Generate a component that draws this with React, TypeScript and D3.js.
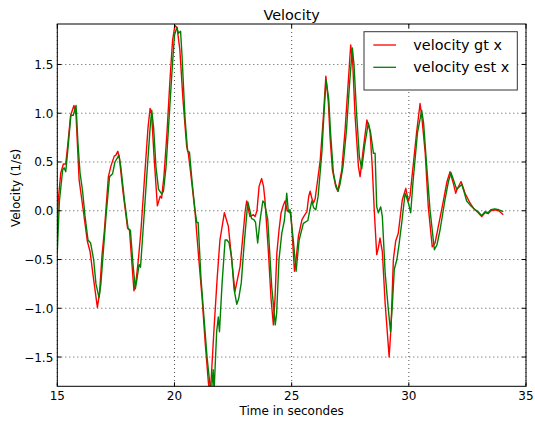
import React from "react";
import * as d3 from "d3";

const gtTime = [15.0, 15.04, 15.15, 15.26, 15.36, 15.44, 15.57, 15.71, 15.8, 15.93, 16.11, 16.28, 16.4, 16.52, 16.71, 16.8, 16.91, 17.0, 17.18, 17.29, 17.43, 17.5, 17.58, 17.65, 17.8, 18.0, 18.08, 18.27, 18.36, 18.46, 18.57, 18.74, 18.87, 18.96, 19.02, 19.13, 19.27, 19.39, 19.45, 19.55, 19.68, 19.81, 19.92, 20.02, 20.11, 20.23, 20.36, 20.52, 20.59, 20.71, 20.88, 21.05, 21.18, 21.31, 21.45, 21.5, 21.56, 21.69, 21.82, 21.94, 22.13, 22.3, 22.44, 22.58, 22.8, 23.01, 23.08, 23.22, 23.37, 23.44, 23.52, 23.61, 23.72, 23.8, 23.86, 24.01, 24.12, 24.22, 24.29, 24.37, 24.46, 24.55, 24.65, 24.72, 24.81, 24.89, 24.97, 25.12, 25.19, 25.29, 25.44, 25.54, 25.65, 25.73, 25.79, 25.87, 25.93, 26.0, 26.1, 26.22, 26.35, 26.46, 26.57, 26.64, 26.74, 26.88, 26.97, 27.14, 27.28, 27.41, 27.52, 27.6, 27.7, 27.85, 27.92, 28.07, 28.21, 28.28, 28.35, 28.44, 28.53, 28.63, 28.7, 28.77, 28.87, 28.99, 29.16, 29.24, 29.34, 29.44, 29.55, 29.72, 29.87, 29.98, 30.05, 30.18, 30.33, 30.48, 30.56, 30.7, 30.83, 31.0, 31.12, 31.26, 31.48, 31.63, 31.76, 31.9, 32.0, 32.06, 32.23, 32.4, 32.61, 32.78, 32.96, 33.11, 33.25, 33.38, 33.5, 33.67, 33.84, 34.03];
const gtVelocity = [-0.25, 0.11, 0.39, 0.48, 0.48, 0.66, 0.98, 1.08, 0.98, 0.32, 0.0, -0.31, -0.42, -0.65, -0.99, -0.85, -0.45, -0.23, 0.35, 0.46, 0.56, 0.57, 0.61, 0.54, 0.2, -0.18, -0.2, -0.82, -0.72, -0.5, -0.2, 0.4, 0.85, 1.05, 1.0, 0.55, 0.05, 0.15, 0.13, 0.35, 0.8, 1.35, 1.75, 1.9, 1.88, 1.65, 1.15, 0.66, 0.59, 0.35, -0.02, -0.53, -0.9, -1.35, -1.77, -1.85, -1.75, -1.2, -0.7, -0.3, -0.02, -0.16, -0.5, -0.83, -0.57, -0.02, 0.1, -0.06, -0.04, -0.06, 0.0, 0.25, 0.33, 0.25, 0.11, -0.43, -0.9, -1.17, -0.9, -0.43, -0.2, -0.02, 0.06, 0.1, 0.0, -0.01, -0.03, -0.62, -0.5, -0.26, -0.09, -0.05, -0.01, 0.15, 0.2, 0.12, 0.08, 0.12, 0.3, 0.52, 0.95, 1.38, 1.1, 0.75, 0.42, 0.25, 0.2, 0.42, 0.83, 1.3, 1.7, 1.55, 1.0, 0.45, 0.35, 0.66, 0.93, 0.88, 0.8, 0.45, -0.02, -0.45, -0.38, -0.28, -0.42, -0.95, -1.5, -1.2, -0.5, -0.31, -0.23, 0.11, 0.23, 0.1, 0.15, 0.45, 0.8, 1.1, 0.95, 0.59, 0.04, -0.37, -0.33, -0.16, 0.11, 0.3, 0.4, 0.28, 0.18, 0.22, 0.3, 0.18, 0.08, 0.02, -0.02, -0.06, -0.02, -0.03, 0.0, 0.01, 0.0, -0.04];

const estTime = [15.0, 15.09, 15.23, 15.29, 15.36, 15.44, 15.58, 15.68, 15.8, 15.88, 15.97, 16.08, 16.18, 16.31, 16.42, 16.55, 16.65, 16.78, 16.86, 16.97, 17.08, 17.23, 17.36, 17.46, 17.63, 17.71, 17.87, 18.02, 18.12, 18.23, 18.33, 18.4, 18.49, 18.55, 18.66, 18.83, 18.96, 19.03, 19.11, 19.21, 19.32, 19.46, 19.53, 19.64, 19.77, 19.9, 20.0, 20.1, 20.17, 20.26, 20.32, 20.45, 20.56, 20.64, 20.75, 20.88, 20.95, 21.01, 21.13, 21.26, 21.39, 21.52, 21.58, 21.65, 21.69, 21.8, 21.87, 21.92, 22.03, 22.16, 22.24, 22.33, 22.44, 22.54, 22.66, 22.74, 22.85, 22.97, 23.13, 23.22, 23.29, 23.39, 23.46, 23.55, 23.65, 23.77, 23.84, 23.98, 24.15, 24.3, 24.36, 24.46, 24.58, 24.69, 24.79, 24.86, 24.93, 25.07, 25.19, 25.32, 25.5, 25.69, 25.77, 25.86, 25.94, 26.03, 26.13, 26.29, 26.38, 26.47, 26.58, 26.66, 26.78, 26.87, 26.98, 27.07, 27.19, 27.34, 27.47, 27.59, 27.66, 27.77, 27.89, 27.99, 28.11, 28.27, 28.37, 28.49, 28.56, 28.63, 28.7, 28.8, 28.87, 28.99, 29.12, 29.22, 29.3, 29.38, 29.49, 29.58, 29.7, 29.84, 29.9, 29.98, 30.08, 30.18, 30.37, 30.55, 30.63, 30.75, 30.9, 31.09, 31.2, 31.33, 31.54, 31.69, 31.8, 31.9, 32.04, 32.26, 32.35, 32.47, 32.61, 32.78, 32.96, 33.11, 33.25, 33.38, 33.5, 33.67, 33.84, 34.03];
const estVelocity = [-0.42, 0.1, 0.42, 0.44, 0.4, 0.6, 0.98, 0.98, 1.08, 0.7, 0.39, 0.2, -0.05, -0.3, -0.33, -0.5, -0.75, -0.89, -0.75, -0.4, -0.05, 0.35, 0.38, 0.5, 0.57, 0.45, 0.1, -0.18, -0.2, -0.55, -0.8, -0.7, -0.55, -0.58, -0.2, 0.4, 0.85, 1.03, 0.85, 0.45, 0.22, 0.17, 0.2, 0.45, 0.95, 1.45, 1.8, 1.88, 1.82, 1.84, 1.6, 0.95, 0.61, 0.6, 0.3, 0.0, -0.12, -0.12, -0.69, -1.1, -1.5, -1.8, -1.85, -1.63, -1.85, -1.24, -1.09, -1.24, -0.75, -0.3, -0.3, -0.33, -0.48, -0.8, -0.96, -0.9, -0.74, -0.35, 0.09, 0.0, -0.08, -0.09, -0.12, -0.33, -0.1, 0.1, 0.08, -0.09, -0.78, -1.17, -1.05, -0.5, -0.23, -0.1, 0.18, -0.01, 0.01, -0.3, -0.62, -0.3, -0.13, -0.1, 0.0, 0.1, 0.03, 0.01, 0.15, 0.6, 1.0, 1.34, 1.15, 0.8, 0.39, 0.28, 0.2, 0.28, 0.45, 0.83, 1.3, 1.67, 1.5, 1.0, 0.55, 0.43, 0.66, 0.9, 0.8, 0.59, 0.59, 0.04, -0.02, 0.04, -0.06, -0.64, -1.0, -1.24, -0.95, -0.6, -0.5, -0.35, -0.12, 0.18, 0.14, 0.08, -0.02, 0.3, 0.8, 1.03, 0.9, 0.5, 0.02, -0.4, -0.35, -0.2, 0.11, 0.3, 0.39, 0.32, 0.22, 0.27, 0.2, 0.1, 0.06, 0.02, -0.01, -0.05, -0.01, -0.02, 0.01, 0.02, 0.01, -0.01];

const xTicks = [15, 20, 25, 30, 35];
const yTicks = [-1.5, -1.0, -0.5, 0.0, 0.5, 1.0, 1.5];
const xDomain = [15, 35];
const yDomain = [-1.8, 1.915];
const seriesLabels = ["velocity gt x", "velocity est x"];
const seriesColors = ["#ff0000", "#008000"];

const W = 535;
const H = 424;
const L = 57.3;
const R = 526;
const T = 24;
const B = 386.3;
const FONT = "'DejaVu Sans', sans-serif";

export default function App() {
  const x = d3.scaleLinear().domain(xDomain).range([L, R]);
  const y = d3.scaleLinear().domain(yDomain).range([B, T]);
  const line = d3
    .line<[number, number]>()
    .x((d) => x(d[0]))
    .y((d) => y(d[1]));
  const gtPts = gtTime.map((t, i) => [t, gtVelocity[i]] as [number, number]);
  const estPts = estTime.map((t, i) => [t, estVelocity[i]] as [number, number]);
  const fmtY = (v: number) => v.toFixed(1).replace("-", "\u2212");
  const tickLen = 4;

  return (
    <svg
      width={W}
      height={H}
      style={{ position: "absolute", left: 0, top: 0, background: "#fff" }}
      fontFamily={FONT}
    >
      <rect x={0} y={0} width={W} height={H} fill="#fff" />
      <defs>
        <clipPath id="plotclip">
          <rect x={L} y={T} width={R - L} height={B - T} />
        </clipPath>
      </defs>
      {/* grid */}
      <g stroke="#000" strokeWidth={0.8} strokeDasharray="1,3" opacity={0.85}>
        {xTicks.map((t) => (
          <line key={"gx" + t} x1={x(t)} x2={x(t)} y1={T} y2={B} />
        ))}
        {yTicks.map((t) => (
          <line key={"gy" + t} x1={L} x2={R} y1={y(t)} y2={y(t)} />
        ))}
      </g>
      {/* series */}
      <g clipPath="url(#plotclip)" fill="none" strokeWidth={1.4} strokeLinejoin="round">
        <path d={line(gtPts) || ""} stroke={seriesColors[0]} />
        <path d={line(estPts) || ""} stroke={seriesColors[1]} />
      </g>
      {/* ticks */}
      <g stroke="#000" strokeWidth={1}>
        {xTicks.map((t) => (
          <g key={"tx" + t}>
            <line x1={x(t)} x2={x(t)} y1={B} y2={B - tickLen} />
            <line x1={x(t)} x2={x(t)} y1={T} y2={T + tickLen} />
          </g>
        ))}
        {yTicks.map((t) => (
          <g key={"ty" + t}>
            <line x1={L} x2={L + tickLen} y1={y(t)} y2={y(t)} />
            <line x1={R} x2={R - tickLen} y1={y(t)} y2={y(t)} />
          </g>
        ))}
      </g>
      {/* frame */}
      <rect x={L} y={T} width={R - L} height={B - T} fill="none" stroke="#000" strokeWidth={1} />
      {/* tick labels */}
      <g fontSize={12} fill="#000">
        {xTicks.map((t) => (
          <text key={"lx" + t} x={x(t)} y={400} textAnchor="middle">
            {String(t)}
          </text>
        ))}
        {yTicks.map((t) => (
          <text key={"ly" + t} x={L - 4} y={y(t) + 4.5} textAnchor="end">
            {fmtY(t)}
          </text>
        ))}
      </g>
      {/* title and axis labels */}
      <text x={(L + R) / 2} y={19.5} textAnchor="middle" fontSize={14.4}>
        Velocity
      </text>
      <text x={(L + R) / 2} y={415} textAnchor="middle" fontSize={12}>
        Time in secondes
      </text>
      <text
        transform={`translate(19.5, 188) rotate(-90)`}
        textAnchor="middle"
        fontSize={12}
      >
        Velocity (1/s)
      </text>
      {/* legend */}
      <g>
        <rect x={364} y={31.7} width={153.3} height={58.3} fill="#fff" stroke="#333" strokeWidth={1} />
        {seriesLabels.map((lab, i) => (
          <g key={lab}>
            <line
              x1={373.3}
              x2={396}
              y1={45 + i * 22.3}
              y2={45 + i * 22.3}
              stroke={seriesColors[i]}
              strokeWidth={1.3}
            />
            <text x={413.3} y={45 + i * 22.3 + 5} fontSize={14.4}>
              {lab}
            </text>
          </g>
        ))}
      </g>
    </svg>
  );
}
